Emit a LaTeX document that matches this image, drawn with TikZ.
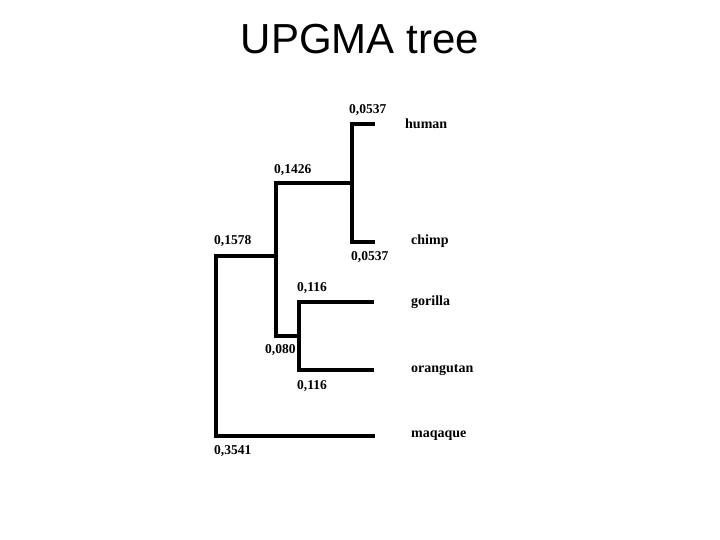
\documentclass[tikz,border=0pt]{standalone}
\usepackage{fontspec}
\setmainfont{Liberation Serif}
\newfontfamily\titlefont{Liberation Sans}
\usetikzlibrary{positioning}
\tikzset{
  branch/.style={line width=4.6pt, line cap=rect, line join=miter},
  leaflbl/.style={anchor=west, inner sep=0pt, font=\fontsize{14}{16}\selectfont\bfseries},
  distlbl/.style={anchor=west, inner sep=0pt, font=\fontsize{13.5}{15}\selectfont\bfseries},
  titlelbl/.style={anchor=base, inner sep=0pt, font=\titlefont\fontsize{42}{48}\selectfont}
}

\begin{document}
\begin{tikzpicture}[x=1pt, y=-1pt]
    \useasboundingbox (0,0) rectangle (720,540);
    \node[titlelbl] (title) at (360,54) {UPGMA tree};
    % inner points of the tree
    \coordinate (rootT) at (216,256);
    \coordinate (rootB) at (216,436);
    \coordinate (grT) at (276,183);
    \coordinate (grB) at (276,336);
    \coordinate (hcT) at (352,124);
    \coordinate (hcB) at (352,242);
    \coordinate (goT) at (299,302);
    \coordinate (goB) at (299,370);
    % leaf tips
    \coordinate (human) at (373,124);
    \coordinate (chimp) at (373,242);
    \coordinate (gorilla) at (372,302);
    \coordinate (orangutan) at (372,370);
    \coordinate (maqaque) at (373,436);
    \draw[branch] (maqaque) -- (rootB) -- (rootT) -- (grT |- rootT);
    \draw[branch] (hcT |- grT) -- (grT) -- (grB) -- (goT |- grB);
    \draw[branch] (human) -- (hcT) -- (hcB) -- (chimp);
    \draw[branch] (gorilla) -- (goT) -- (goB) -- (orangutan);
    % leaf names
    \node[leaflbl] (lhuman) at (405,124) {human};
    \node[leaflbl] (lchimp) at (411,241) {chimp};
    \node[leaflbl] (lgorilla) at (411,302) {gorilla};
    \node[leaflbl] (lorangutan) at (411,370) {orangutan};
    \node[leaflbl] (lmaqaque) at (411,436) {maqaque};
    % distances
    \node[distlbl] (dhuman) at (349,110) {0,0537};
    \node[distlbl] (dchimp) at (351,257) {0,0537};
    \node[distlbl] (dhc) at (274,170) {0,1426};
    \node[distlbl] (dgr) at (214,241) {0,1578};
    \node[distlbl] (dgorilla) at (297,288) {0,116};
    \node[distlbl] (dorangutan) at (297,386) {0,116};
    \node[distlbl] (dgo) at (265,350) {0,080};
    \node[distlbl] (dmaqaque) at (214,451) {0,3541};
  \end{tikzpicture}
\end{document}
